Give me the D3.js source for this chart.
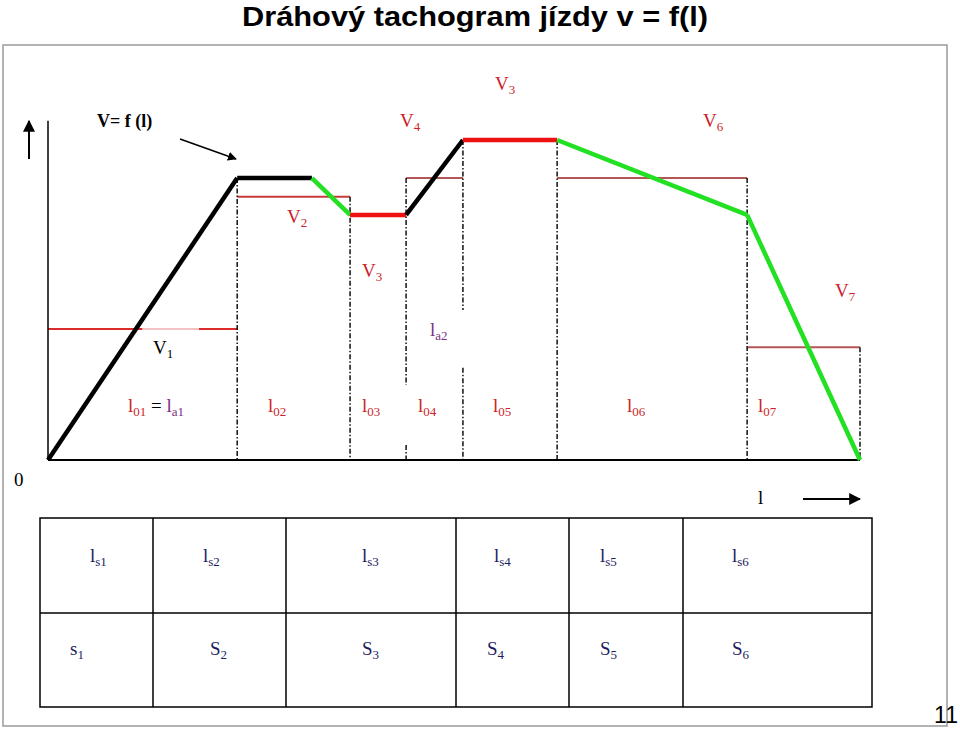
<!DOCTYPE html>
<html><head><meta charset="utf-8">
<script src="https://cdn.jsdelivr.net/npm/d3@7"></script>
<style>body{margin:0;background:#fff}svg{display:block}</style>
</head><body><svg id="c" width="960" height="729"></svg>
<script>
// ---------------- data ----------------
const profileL = [0, 2.33, 3.25, 3.72, 4.41, 5.11, 6.27, 8.61, 10];
const profileV = [0, 88.1, 88.1, 76.6, 76.6, 100, 100, 76.6, 0];
const segmentKind = ["acc", "acc", "brk", "const", "acc", "const", "brk", "brk"];
const sectionEnds = [2.33, 3.72, 4.41, 5.11, 6.27, 8.61, 10];
const sectionTops = [88.1, 82.3, 88.1, 100, 100, 88.1, 35.2];
const meanFrom = [0, 2.33, 4.41, 6.27, 8.61];
const meanTo = [2.33, 3.72, 5.11, 8.61, 10];
const meanV = [40.9, 82.3, 88.1, 88.1, 35.2];
const sectionNames = ["01", "02", "03", "04", "05", "06", "07"];
const tableRow1 = [["l","s1"],["l","s2"],["l","s3"],["l","s4"],["l","s5"],["l","s6"]];
const tableRow2 = [["s","1"],["S","2"],["S","3"],["S","4"],["S","5"],["S","6"]];

// ---------------- layout ----------------
const svg = d3.select("#c");
const x = d3.scaleLinear().domain([0, 10]).range([48, 860]);
const y = d3.scaleLinear().domain([0, 100]).range([460, 140]);
const RED = "#cc1f2a", PURPLE = "#7b2f86", NAVY = "#1d1d5e";
const SERIF = "'Liberation Serif','Times New Roman',serif";
const segStyle = {acc: "#000", brk: "#22e022", const: "#ee1111"};

svg.append("defs").append("marker").attr("id", "ah")
  .attr("viewBox", "0 0 10 10").attr("refX", 9).attr("refY", 5)
  .attr("markerWidth", 6).attr("markerHeight", 6).attr("orient", "auto")
  .append("path").attr("d", "M0,0L10,5L0,10z").attr("fill", "#000");

// frame
svg.append("rect").attr("x", 3).attr("y", 45).attr("width", 944).attr("height", 681)
  .attr("fill", "none").attr("stroke", "#9a9a9a").attr("stroke-width", 1.5);

// title
svg.append("text").attr("x", 242).attr("y", 26)
  .attr("font-family", "'Liberation Sans',Arial,sans-serif").attr("font-weight", "bold")
  .attr("font-size", 28).attr("textLength", 466).attr("lengthAdjust", "spacingAndGlyphs")
  .text("Dráhový tachogram jízdy v = f(l)");

function subText(px, py, parts, size, anchor) {
  const t = svg.append("text").attr("x", px).attr("y", py)
    .attr("font-family", SERIF).attr("font-size", size || 19)
    .attr("text-anchor", anchor || "start");
  let shift = 0;
  parts.forEach(p => {
    t.append("tspan").attr("dy", -shift).attr("fill", p.c).text(p.t);
    shift = 0;
    if (p.s) {
      t.append("tspan").attr("dy", 4).attr("font-size", 13).attr("fill", p.c).text(p.s);
      shift = 4;
    }
  });
  return t;
}

// mean level lines
meanV.forEach((v, i) => {
  svg.append("line").attr("x1", x(meanFrom[i])).attr("x2", x(meanTo[i]))
    .attr("y1", y(v)).attr("y2", y(v))
    .attr("stroke", i === 0 ? "#dd2a2a" : (i === 1 ? "#c83a3a" : "#b45656")).attr("stroke-width", 2);
});
// pale part of first mean line (behind V1 label)
svg.append("line").attr("x1", x(1.16)).attr("x2", x(1.86)).attr("y1", y(meanV[0])).attr("y2", y(meanV[0]))
  .attr("stroke", "#f3c2c2").attr("stroke-width", 2);

// section boundaries (dash-dot)
const gaps = {2: [23.4, 4.7], 3: [46.9, 28.8]};
sectionEnds.forEach((l, i) => {
  const segs = gaps[i] ? [[sectionTops[i], gaps[i][0]], [gaps[i][1], 0]] : [[sectionTops[i], 0]];
  segs.forEach(s => {
    svg.append("line").attr("x1", x(l)).attr("x2", x(l)).attr("y1", y(s[0])).attr("y2", y(s[1]))
      .attr("stroke", "#111").attr("stroke-width", 1.5).attr("stroke-dasharray", "5,2,1.5,2");
  });
});

// axes
svg.append("line").attr("x1", x(0)).attr("x2", x(0)).attr("y1", y(106)).attr("y2", y(0))
  .attr("stroke", "#000").attr("stroke-width", 1.5);
svg.append("line").attr("x1", x(0)).attr("x2", x(10)).attr("y1", y(0)).attr("y2", y(0))
  .attr("stroke", "#000").attr("stroke-width", 2);
svg.append("line").attr("x1", 29).attr("x2", 29).attr("y1", 159).attr("y2", 121)
  .attr("stroke", "#000").attr("stroke-width", 2).attr("marker-end", "url(#ah)");
svg.append("line").attr("x1", 803).attr("x2", 860).attr("y1", 499).attr("y2", 499)
  .attr("stroke", "#000").attr("stroke-width", 2).attr("marker-end", "url(#ah)");

// speed profile
segmentKind.forEach((k, i) => {
  svg.append("line")
    .attr("x1", x(profileL[i])).attr("y1", y(profileV[i]))
    .attr("x2", x(profileL[i + 1])).attr("y2", y(profileV[i + 1]))
    .attr("stroke", segStyle[k]).attr("stroke-width", 4.5).attr("stroke-linecap", "butt");
});

// V = f(l) label + arrow
svg.append("text").attr("x", 97).attr("y", 127).attr("font-family", SERIF)
  .attr("font-weight", "bold").attr("font-size", 18).text("V= f (l)");
svg.append("line").attr("x1", 180).attr("y1", 139).attr("x2", 236).attr("y2", 159)
  .attr("stroke", "#000").attr("stroke-width", 1.5).attr("marker-end", "url(#ah)");

// speed labels
subText(495, 90, [{t: "V", s: "3", c: RED}]);
subText(400, 127, [{t: "V", s: "4", c: RED}]);
subText(703, 127, [{t: "V", s: "6", c: RED}]);
subText(287, 223, [{t: "V", s: "2", c: RED}]);
subText(362, 277, [{t: "V", s: "3", c: RED}]);
subText(835, 297, [{t: "V", s: "7", c: RED}]);
subText(153, 354, [{t: "V", s: "1", c: "#000"}]);
subText(430, 336, [{t: "l", s: "a2", c: PURPLE}]);

// section length labels
const secLabelX = [128, 268, 362, 418, 493, 627, 758];
sectionNames.forEach((n, i) => {
  if (i === 0) {
    subText(secLabelX[i], 412, [{t: "l", s: n, c: RED}, {t: " = ", c: "#000"}, {t: "l", s: "a1", c: PURPLE}]);
  } else {
    subText(secLabelX[i], 412, [{t: "l", s: n, c: RED}]);
  }
});

// origin & l axis label
svg.append("text").attr("x", 14).attr("y", 486).attr("font-family", SERIF).attr("font-size", 19).text("0");
svg.append("text").attr("x", 758).attr("y", 504).attr("font-family", SERIF).attr("font-size", 19).text("l");

// table
const colEdges = [40, 153, 286, 456, 569, 683, 872];
const rowEdges = [518, 613, 707];
const tg = svg.append("g").attr("stroke", "#000").attr("stroke-width", 1.5);
tg.append("rect").attr("x", colEdges[0]).attr("y", rowEdges[0])
  .attr("width", colEdges[6] - colEdges[0]).attr("height", rowEdges[2] - rowEdges[0]).attr("fill", "none");
tg.append("line").attr("x1", colEdges[0]).attr("x2", colEdges[6]).attr("y1", rowEdges[1]).attr("y2", rowEdges[1]);
colEdges.slice(1, 6).forEach(cx => tg.append("line").attr("x1", cx).attr("x2", cx).attr("y1", rowEdges[0]).attr("y2", rowEdges[2]));
const r1X = [90, 203, 362, 494, 600, 732];
const r2X = [70, 210, 362, 487, 600, 732];
tableRow1.forEach((d, i) => subText(r1X[i], 562, [{t: d[0], s: d[1], c: NAVY}]));
tableRow2.forEach((d, i) => subText(r2X[i], 655, [{t: d[0], s: d[1], c: NAVY}]));

// page number
svg.append("text").attr("x", 958).attr("y", 723).attr("text-anchor", "end")
  .attr("font-family", "'Liberation Sans',Arial,sans-serif")
  .attr("font-size", 23).text("11");
</script></body></html>
